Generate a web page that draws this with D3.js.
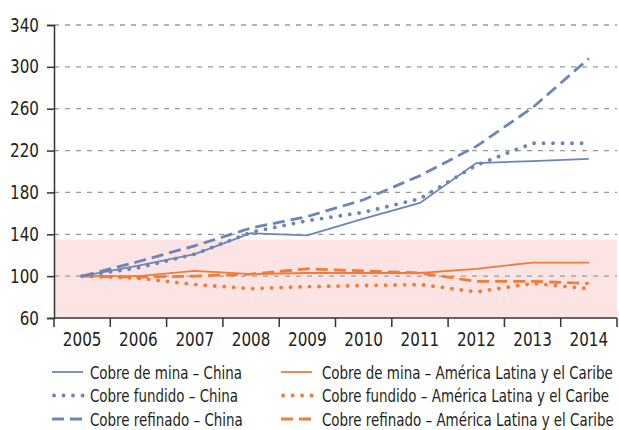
<!DOCTYPE html>
<html>
<head>
<meta charset="utf-8">
<script src="https://cdn.jsdelivr.net/npm/d3@7"></script>
<style>
  body { margin: 0; background: #fff; }
  svg text { font-family: "DejaVu Sans", sans-serif; fill: #231f20; }
</style>
</head>
<body>
<div id="chart"></div>
<script>
// years on the x axis
var years = ["2005", "2006", "2007", "2008", "2009", "2010", "2011", "2012", "2013", "2014"];
var yTicks = [60, 100, 140, 180, 220, 260, 300, 340];

// index values (2005 = 100)
var minaChina      = [100, 110, 121, 141, 139, 155, 170, 208, 210, 212];
var fundidoChina   = [100, 108, 121, 142, 153, 161, 174, 206, 227, 227];
var refinadoChina  = [100, 114, 129, 146, 157, 173, 196, 224, 261, 308];
var minaLac        = [100, 100, 105, 102, 103, 103, 103, 107, 113, 113];
var fundidoLac     = [100, 98, 92, 88, 90, 91, 92, 85, 93, 88];
var refinadoLac    = [100, 99, 100, 102, 107, 105, 103, 95, 95, 93];

var shadeTop = 135;   // top of the pink band

var blue = "#6b86b6", orange = "#f47a36";

var series = [
    {name: "Cobre de mina \u2013 China", vals: minaChina, color: blue, style: "solid"},
    {name: "Cobre fundido \u2013 China", vals: fundidoChina, color: blue, style: "dot"},
    {name: "Cobre refinado \u2013 China", vals: refinadoChina, color: blue, style: "dash"},
    {name: "Cobre de mina \u2013 Am\u00e9rica Latina y el Caribe", vals: minaLac, color: orange, style: "solid"},
    {name: "Cobre fundido \u2013 Am\u00e9rica Latina y el Caribe", vals: fundidoLac, color: orange, style: "dot"},
    {name: "Cobre refinado \u2013 Am\u00e9rica Latina y el Caribe", vals: refinadoLac, color: orange, style: "dash"}
];

var W = 619, H = 430;
var m = {left: 54, right: 2, top: 25, bottom: 112};

var svg = d3.select("#chart").append("svg")
    .attr("width", W).attr("height", H);

var x = d3.scaleBand().domain(years).range([m.left, W - m.right]);
var y = d3.scaleLinear().domain([60, 340]).range([H - m.bottom, m.top]);

function applyStyle(sel, s) {
    if (s === "dot") {
        sel.attr("stroke-width", 3.8).attr("stroke-linecap", "round")
           .attr("stroke-dasharray", "0.1 9.4");
    } else if (s === "dash") {
        sel.attr("stroke-width", 2.8).attr("stroke-dasharray", "12 6");
    } else {
        sel.attr("stroke-width", 1.8);
    }
    return sel;
}

// squeeze text horizontally (the original uses a condensed face)
function squeeze(sel, ratio) {
    sel.each(function () {
        var t = d3.select(this),
            tx = +t.attr("x") || 0, ty = +t.attr("y") || 0;
        t.attr("x", 0).attr("y", 0)
         .attr("transform", "translate(" + tx + "," + ty + ") scale(" + ratio + ",1)");
    });
}

// pink band
svg.append("rect")
    .attr("x", m.left).attr("y", y(shadeTop))
    .attr("width", W - m.right - m.left)
    .attr("height", y(60) - y(shadeTop))
    .attr("fill", "#fce4e4");

// dashed grid
svg.append("g").selectAll("line")
    .data(yTicks.filter(function (d) { return d > 60; }))
    .join("line")
    .attr("x1", m.left).attr("x2", W - m.right)
    .attr("y1", function (d) { return y(d); })
    .attr("y2", function (d) { return y(d); })
    .attr("stroke", "#9a9a9a").attr("stroke-width", 1.3)
    .attr("stroke-dasharray", "5 6");

// y axis
var yAxis = svg.append("g")
    .attr("transform", "translate(" + m.left + ",0)")
    .call(d3.axisLeft(y).tickValues(yTicks).tickSize(7).tickPadding(8));
yAxis.select(".domain").attr("stroke", "#333").attr("stroke-width", 1.5);
yAxis.selectAll(".tick line").attr("stroke", "#333").attr("stroke-width", 1.5);
yAxis.attr("font-family", null).attr("font-size", null);
yAxis.selectAll("text").style("font-size", "19px").attr("fill", "#231f20")
    .call(squeeze, 0.8);

// x axis with ticks on band edges
var xAxisG = svg.append("g")
    .attr("transform", "translate(0," + (H - m.bottom) + ")");
xAxisG.append("line")
    .attr("x1", m.left).attr("x2", W - m.right)
    .attr("stroke", "#333").attr("stroke-width", 1.5);
xAxisG.selectAll("line.tk")
    .data(years.concat(["end"]))
    .join("line").attr("class", "tk")
    .attr("x1", function (d, i) { return i < years.length ? x(d) : x.range()[1]; })
    .attr("x2", function (d, i) { return i < years.length ? x(d) : x.range()[1]; })
    .attr("y1", 0).attr("y2", 9)
    .attr("stroke", "#333").attr("stroke-width", 1.5);
xAxisG.selectAll("text")
    .data(years)
    .join("text")
    .attr("x", function (d) { return x(d) + x.bandwidth() / 2; })
    .attr("y", 28)
    .attr("text-anchor", "middle")
    .style("font-size", "19px")
    .text(function (d) { return d; })
    .call(squeeze, 0.8);

// lines
var line = d3.line()
    .x(function (d, i) { return x(years[i]) + x.bandwidth() / 2; })
    .y(function (d) { return y(d); });

var order = [3, 5, 4, 0, 2, 1];
order.forEach(function (k) {
    var s = series[k];
    applyStyle(svg.append("path")
        .datum(s.vals)
        .attr("d", line)
        .attr("fill", "none")
        .attr("stroke", s.color), s.style);
});

// legend
var leg = svg.append("g");
series.forEach(function (s, i) {
    var col = Math.floor(i / 3), row = i % 3;
    var lx = col === 0 ? 52 : 281;
    var tx = col === 0 ? 90 : 322;
    var ly = 372 + row * 23.5;
    applyStyle(leg.append("line")
        .attr("x1", lx + (s.style === "dot" ? 2 : 0)).attr("x2", lx + 31)
        .attr("y1", ly).attr("y2", ly)
        .attr("stroke", s.color), s.style);
    leg.append("text")
        .attr("x", tx).attr("y", ly + 6.5)
        .style("font-size", "17px")
        .text(s.name)
        .call(squeeze, 0.79);
});
</script>
</body>
</html>
